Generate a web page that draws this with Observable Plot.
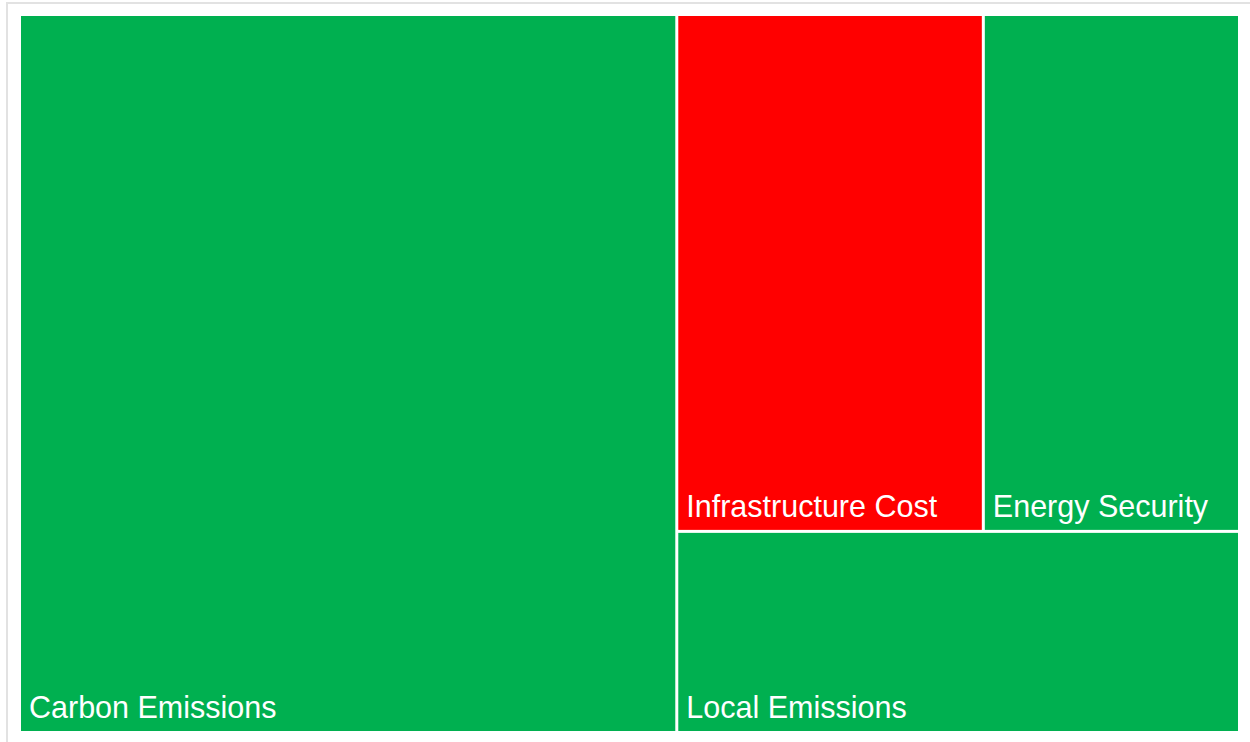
<!DOCTYPE html>
<html>
<head>
<meta charset="utf-8">
<script src="https://cdn.jsdelivr.net/npm/d3@7"></script>
<script src="https://cdn.jsdelivr.net/npm/@observablehq/plot@0.6"></script>
<style>
  html, body { margin: 0; padding: 0; background: #fff; }
  #wrap { position: relative; width: 1250px; height: 742px; overflow: hidden; }
  #frame { position: absolute; left: 6px; top: 2px; width: 1300px; height: 800px;
           border-left: 2px solid #e2e2e2; border-top: 2px solid #e2e2e2; box-sizing: border-box; }
  #chart { position: absolute; left: 0; top: 0; }
</style>
</head>
<body>
<div id="wrap"><div id="frame"></div><div id="chart"></div></div>
<script>
const categories = ["Carbon Emissions", "Infrastructure Cost", "Energy Security", "Local Emissions"];
const values = [41.7, 14, 11.7, 10];
const fills = ["#00B050", "#FF0000", "#00B050", "#00B050"];

// Tiling structure (squarified rows): Carbon | [ [Infrastructure | Energy] / Local ]
const leaf = i => ({name: categories[i], value: values[i], fill: fills[i]});
const tree = {children: [leaf(0), {children: [{children: [leaf(1), leaf(2)]}, leaf(3)]}]};

const W = 1220, H = 718;
const root = d3.hierarchy(tree).sum(d => d.value || 0);
d3.treemap().tile(d3.treemapSliceDice).size([W, H]).round(false)(root);
const cells = root.leaves().map(d => ({name: d.data.name, fill: d.data.fill, x0: d.x0, x1: d.x1, y0: d.y0, y1: d.y1}));

const chart = Plot.plot({
  width: 1250,
  height: 742,
  marginLeft: 19.5,
  marginTop: 14.5,
  marginRight: 10.5,
  marginBottom: 9.5,
  x: {domain: [0, W], axis: null},
  y: {domain: [0, H], reverse: true, axis: null},
  style: {fontFamily: "'Liberation Sans', Arial, Helvetica, sans-serif", background: "transparent"},
  marks: [
    Plot.rect(cells, {x1: "x0", x2: "x1", y1: "y0", y2: "y1", fill: "fill", inset: 1.5}),
    Plot.text(cells, {x: "x0", y: "y1", text: "name", fill: "white", fontSize: 30.5,
      textAnchor: "start", lineAnchor: "bottom", dx: 9, dy: -15})
  ]
});
document.getElementById("chart").appendChild(chart);
</script>
</body>
</html>
